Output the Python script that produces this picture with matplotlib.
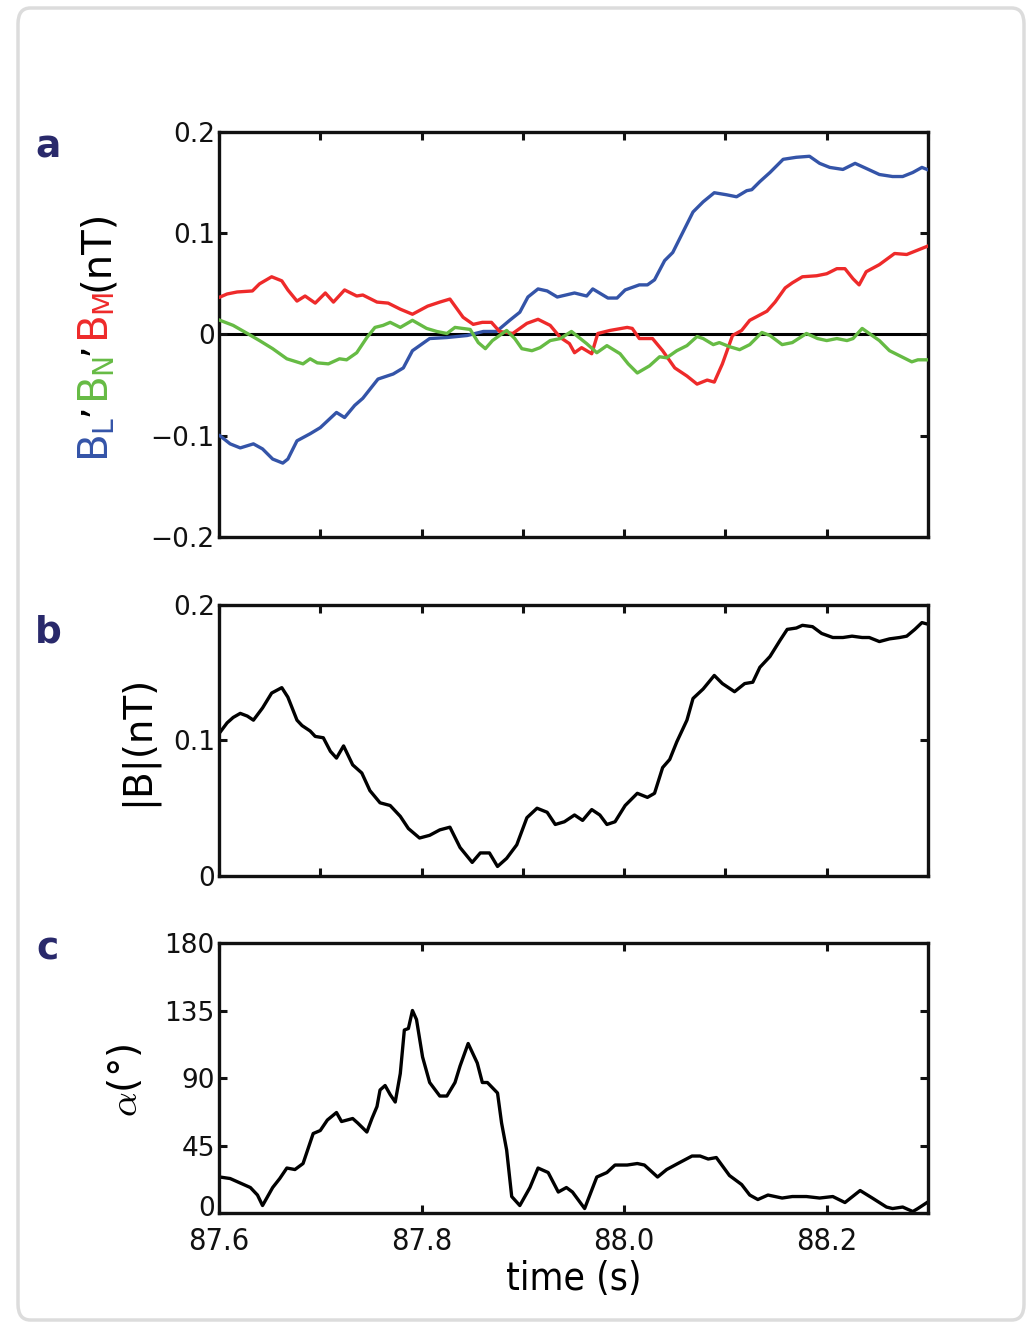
import numpy as np
import matplotlib
matplotlib.use("Agg")
import matplotlib.pyplot as plt
import matplotlib.transforms as mtransforms
from matplotlib.patches import FancyBboxPatch

# ---- data ----
t_bl = [87.601, 87.611, 87.621, 87.634, 87.643, 87.653, 87.663, 87.668, 87.677, 87.690,
        87.700, 87.716, 87.724, 87.734, 87.742, 87.757, 87.772, 87.782, 87.791, 87.808,
        87.825, 87.845, 87.861, 87.874, 87.887, 87.897, 87.905, 87.915, 87.924, 87.934,
        87.951, 87.963, 87.969, 87.984, 87.993, 88.001, 88.015, 88.023, 88.030, 88.040,
        88.048, 88.060, 88.068, 88.078, 88.089, 88.101, 88.111, 88.121, 88.126, 88.134,
        88.144, 88.157, 88.170, 88.183, 88.193, 88.203, 88.216, 88.228, 88.239, 88.252,
        88.265, 88.275, 88.285, 88.294, 88.299]
b_l = [-0.100, -0.108, -0.112, -0.108, -0.113, -0.123, -0.127, -0.123, -0.105, -0.098,
       -0.092, -0.077, -0.082, -0.070, -0.063, -0.044, -0.039, -0.033, -0.016, -0.004,
       -0.003, -0.001, 0.003, 0.003, 0.014, 0.022, 0.037, 0.045, 0.043, 0.037,
       0.041, 0.038, 0.045, 0.036, 0.036, 0.044, 0.049, 0.049, 0.054, 0.073,
       0.081, 0.105, 0.121, 0.131, 0.140, 0.138, 0.136, 0.142, 0.143, 0.151,
       0.160, 0.173, 0.175, 0.176, 0.169, 0.165, 0.163, 0.169, 0.164, 0.158,
       0.156, 0.156, 0.160, 0.165, 0.163]

t_bm = [87.601, 87.608, 87.618, 87.633, 87.640, 87.652, 87.662, 87.668, 87.677, 87.685,
        87.695, 87.705, 87.713, 87.724, 87.736, 87.742, 87.756, 87.767, 87.779, 87.791,
        87.806, 87.818, 87.828, 87.841, 87.851, 87.860, 87.869, 87.877, 87.890, 87.904,
        87.915, 87.927, 87.937, 87.946, 87.951, 87.958, 87.968, 87.974, 87.986, 88.003,
        88.008, 88.015, 88.028, 88.038, 88.050, 88.062, 88.072, 88.082, 88.089, 88.097,
        88.107, 88.116, 88.124, 88.141, 88.149, 88.159, 88.166, 88.176, 88.190, 88.200,
        88.210, 88.218, 88.226, 88.232, 88.239, 88.252, 88.267, 88.279, 88.289, 88.299]
b_m = [0.037, 0.040, 0.042, 0.043, 0.050, 0.057, 0.053, 0.044, 0.033, 0.038,
       0.031, 0.041, 0.032, 0.044, 0.038, 0.039, 0.032, 0.031, 0.025, 0.020,
       0.028, 0.032, 0.035, 0.017, 0.010, 0.012, 0.012, 0.003, 0.001, 0.011,
       0.015, 0.009, -0.003, -0.009, -0.018, -0.013, -0.019, 0.001, 0.004, 0.007,
       0.006, -0.004, -0.004, -0.016, -0.033, -0.041, -0.049, -0.045, -0.047, -0.029,
       -0.001, 0.004, 0.014, 0.023, 0.032, 0.046, 0.051, 0.057, 0.058, 0.060,
       0.065, 0.065, 0.055, 0.049, 0.062, 0.069, 0.080, 0.079, 0.083, 0.087]

t_bn = [87.601, 87.614, 87.628, 87.640, 87.653, 87.667, 87.683, 87.690, 87.697, 87.708,
        87.719, 87.726, 87.736, 87.746, 87.754, 87.762, 87.769, 87.779, 87.791, 87.805,
        87.815, 87.825, 87.833, 87.848, 87.856, 87.863, 87.870, 87.884, 87.892, 87.899,
        87.909, 87.917, 87.927, 87.937, 87.948, 87.963, 87.973, 87.983, 87.996, 88.004,
        88.013, 88.025, 88.035, 88.042, 88.052, 88.062, 88.072, 88.078, 88.088, 88.094,
        88.104, 88.114, 88.124, 88.136, 88.144, 88.156, 88.166, 88.180, 88.191, 88.200,
        88.210, 88.220, 88.226, 88.235, 88.242, 88.252, 88.262, 88.272, 88.284, 88.290,
        88.299]
b_n = [0.014, 0.009, 0.001, -0.006, -0.014, -0.024, -0.029, -0.024, -0.028, -0.029,
       -0.024, -0.025, -0.018, -0.003, 0.007, 0.009, 0.012, 0.007, 0.014, 0.006,
       0.003, 0.001, 0.007, 0.005, -0.008, -0.014, -0.006, 0.004, -0.004, -0.014,
       -0.016, -0.013, -0.006, -0.004, 0.003, -0.009, -0.018, -0.011, -0.019, -0.029,
       -0.038, -0.031, -0.022, -0.023, -0.016, -0.011, -0.002, -0.004, -0.010, -0.008,
       -0.012, -0.015, -0.010, 0.002, -0.001, -0.010, -0.008, 0.001, -0.004, -0.006,
       -0.004, -0.006, -0.004, 0.006, 0.001, -0.006, -0.016, -0.021, -0.027, -0.025,
       -0.025]

t_b = [87.601, 87.608, 87.614, 87.621, 87.628, 87.634, 87.643, 87.652, 87.662, 87.668,
       87.677, 87.682, 87.690, 87.695, 87.703, 87.710, 87.716, 87.723, 87.732, 87.741,
       87.749, 87.759, 87.769, 87.779, 87.787, 87.798, 87.808, 87.818, 87.828, 87.838,
       87.850, 87.858, 87.867, 87.875, 87.884, 87.894, 87.904, 87.914, 87.924, 87.932,
       87.941, 87.951, 87.959, 87.968, 87.976, 87.983, 87.991, 88.001, 88.013, 88.023,
       88.030, 88.038, 88.045, 88.052, 88.062, 88.068, 88.078, 88.089, 88.097, 88.109,
       88.119, 88.127, 88.134, 88.144, 88.154, 88.161, 88.170, 88.176, 88.186, 88.195,
       88.206, 88.216, 88.225, 88.235, 88.242, 88.252, 88.262, 88.272, 88.279, 88.287,
       88.294, 88.299]
b_mag = [0.106, 0.113, 0.117, 0.120, 0.118, 0.115, 0.124, 0.135, 0.139, 0.132,
         0.115, 0.111, 0.107, 0.103, 0.102, 0.092, 0.087, 0.096, 0.082, 0.076,
         0.063, 0.054, 0.052, 0.044, 0.035, 0.028, 0.030, 0.034, 0.036, 0.021,
         0.010, 0.017, 0.017, 0.007, 0.013, 0.023, 0.043, 0.050, 0.047, 0.038,
         0.040, 0.045, 0.041, 0.049, 0.045, 0.038, 0.040, 0.052, 0.061, 0.058,
         0.061, 0.080, 0.086, 0.099, 0.115, 0.131, 0.138, 0.148, 0.142, 0.136,
         0.142, 0.143, 0.154, 0.162, 0.174, 0.182, 0.183, 0.185, 0.184, 0.179,
         0.176, 0.176, 0.177, 0.176, 0.176, 0.173, 0.175, 0.176, 0.177, 0.182,
         0.187, 0.186]

t_alpha = [87.601, 87.611, 87.621, 87.631, 87.638, 87.643, 87.653, 87.660, 87.667, 87.675,
           87.683, 87.693, 87.700, 87.707, 87.716, 87.721, 87.732, 87.737, 87.746, 87.751,
           87.756, 87.759, 87.764, 87.769, 87.774, 87.779, 87.783, 87.787, 87.791, 87.795,
           87.801, 87.808, 87.818, 87.825, 87.833, 87.838, 87.846, 87.855, 87.860, 87.865,
           87.875, 87.879, 87.884, 87.889, 87.897, 87.907, 87.915, 87.925, 87.935, 87.943,
           87.949, 87.961, 87.973, 87.983, 87.991, 88.003, 88.013, 88.020, 88.033, 88.042,
           88.053, 88.067, 88.075, 88.083, 88.091, 88.104, 88.116, 88.124, 88.132, 88.142,
           88.156, 88.166, 88.180, 88.193, 88.206, 88.218, 88.233, 88.245, 88.259, 88.265,
           88.275, 88.285, 88.290, 88.299]
alpha = [24, 23, 20, 17, 12, 5, 17, 23, 30, 29,
         33, 53, 55, 62, 67, 61, 63, 60, 54, 63,
         71, 82, 85, 79, 74, 93, 122, 123, 135, 129,
         104, 87, 78, 78, 87, 98, 113, 100, 87, 87,
         80, 60, 42, 11, 5, 17, 30, 27, 14, 17,
         14, 3, 24, 27, 32, 32, 33, 32, 24, 29,
         33, 38, 38, 36, 37, 25, 19, 12, 9, 12,
         10, 11, 11, 10, 11, 7, 15, 10, 4, 3,
         4, 1, 3, 7]

c_blue = '#3454a8'
c_green = '#66bb44'
c_red = '#ee2a2a'
c_letter = '#29296b'
lw = 2.4

plt.rcParams['font.family'] = ['DejaVu Sans']
plt.rcParams['mathtext.default'] = 'regular'

fig = plt.figure(figsize=(10.31, 13.25), dpi=100)
fig.patch.set_facecolor('white')

# card background
card = FancyBboxPatch((18 / 1031, 5 / 1325), 1006 / 1031, 1312 / 1325,
                      boxstyle="round,pad=0,rounding_size=0.012",
                      transform=fig.transFigure, facecolor='white',
                      edgecolor='#dcdcdc', linewidth=2.5, zorder=-10)
fig.patches.append(card)

ax_a = fig.add_axes([0.2124, 0.5947, 0.6877, 0.3057])
ax_b = fig.add_axes([0.2124, 0.3389, 0.6877, 0.2045])
ax_c = fig.add_axes([0.2124, 0.0845, 0.6877, 0.2038])

for ax in (ax_a, ax_b, ax_c):
    ax.set_xlim(87.6, 88.3)
    for s in ax.spines.values():
        s.set_linewidth(2.4)
        s.set_color('#111111')
    ax.tick_params(direction='in', length=6, width=2.2, top=True, right=True,
                   labelsize=19, pad=3, colors='#111111')

# panel a
ax_a.axhline(0, color='black', lw=2.2, zorder=1)
ax_a.plot(t_bl, b_l, color=c_blue, lw=lw, zorder=3)
ax_a.plot(t_bm, b_m, color=c_red, lw=lw, zorder=3)
ax_a.plot(t_bn, b_n, color=c_green, lw=lw, zorder=3)
ax_a.set_ylim(-0.2, 0.2)
ax_a.set_yticks([-0.2, -0.1, 0, 0.1, 0.2])
ax_a.set_yticklabels(['\u22120.2', '\u22120.1', '0', '0.1', '0.2'])
ax_a.set_xticks(np.arange(87.6, 88.31, 0.1))
ax_a.set_xticklabels([])

# panel b
ax_b.plot(t_b, b_mag, color='black', lw=lw)
ax_b.set_ylim(0, 0.2)
ax_b.set_yticks([0, 0.1, 0.2])
ax_b.set_yticklabels(['0', '0.1', '0.2'])
ax_b.set_xticks(np.arange(87.6, 88.31, 0.1))
ax_b.set_xticklabels([])

# panel c
ax_c.plot(t_alpha, alpha, color='black', lw=lw)
ax_c.set_ylim(0, 180)
ax_c.set_yticks([0, 45, 90, 135, 180])
ax_c.set_xticks([87.6, 87.8, 88.0, 88.2])
ax_c.set_xticklabels(['87.6', '87.8', '88.0', '88.2'])
ax_c.tick_params(axis='x', pad=10, labelsize=22)
for lab in ax_c.get_xticklabels():
    lab.set_fontstretch('condensed')
ax_c.set_xlabel('time (s)', fontsize=28, labelpad=3, fontstretch='condensed')

# lift the lowest y label of panel c a little so it clears "87.6"
zero_lab = ax_c.get_yticklabels()[0]
zero_lab.set_transform(zero_lab.get_transform() +
                       mtransforms.ScaledTranslation(0, 5 / 72, fig.dpi_scale_trans))

# panel letters
for ypix, letter in [(147, 'a'), (632, 'b'), (950, 'c')]:
    fig.text(48 / 1031, 1 - ypix / 1325, letter, fontsize=27, fontweight='bold',
             color=c_letter, ha='center', va='center')

# multicoloured y label for panel a, built piece by piece bottom-up
fig.canvas.draw()
renderer = fig.canvas.get_renderer()
pieces = [('B$_{L}$', c_blue), ('\u2019', 'black'), ('B$_{N}$', c_green),
          ('\u2019', 'black'), ('B$_{M}$', c_red), ('(nT)', 'black')]
ypos = 1 - 462 / 1325
xpos = 108 / 1031
for txt, col in pieces:
    t = fig.text(xpos, ypos, txt, fontsize=29, color=col, rotation=90,
                 rotation_mode='anchor', ha='left', va='baseline')
    bb = t.get_window_extent(renderer)
    ypos += bb.height / fig.bbox.height

fig.text(137 / 1031, 1 - 740 / 1325, '|B|(nT)', fontsize=28, rotation=90,
         ha='center', va='center')
fig.text(125 / 1031, 1 - 1080 / 1325, r'$\mathit{\alpha}$(°)', fontsize=28,
         rotation=90, ha='center', va='center', math_fontfamily='cm')

fig.savefig('out.png', dpi=100, facecolor=fig.get_facecolor())
